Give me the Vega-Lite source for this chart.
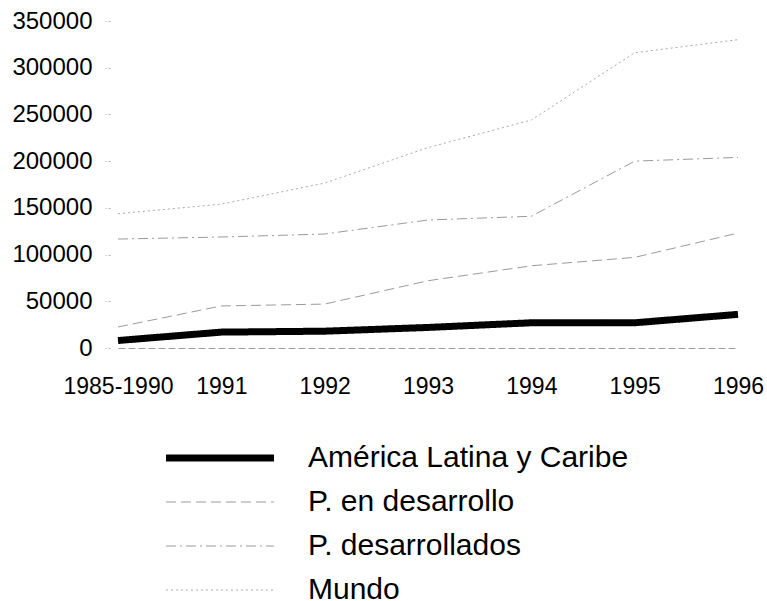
{
  "$schema": "https://vega.github.io/schema/vega-lite/v6.json",
  "width": 620,
  "height": 327,
  "autosize": {"type": "none"},
  "padding": {"left": 118, "top": 21, "right": 29, "bottom": 253},
  "background": "white",
  "config": {
    "view": {"stroke": null},
    "font": "Liberation Sans"
  },
  "data": {
    "values": [
      {"periodo": "1985-1990", "serie": "América Latina y Caribe", "valor": 8000},
      {"periodo": "1991", "serie": "América Latina y Caribe", "valor": 17000},
      {"periodo": "1992", "serie": "América Latina y Caribe", "valor": 18000},
      {"periodo": "1993", "serie": "América Latina y Caribe", "valor": 22000},
      {"periodo": "1994", "serie": "América Latina y Caribe", "valor": 27000},
      {"periodo": "1995", "serie": "América Latina y Caribe", "valor": 27000},
      {"periodo": "1996", "serie": "América Latina y Caribe", "valor": 36000},
      {"periodo": "1985-1990", "serie": "P. en desarrollo", "valor": 22500},
      {"periodo": "1991", "serie": "P. en desarrollo", "valor": 45000},
      {"periodo": "1992", "serie": "P. en desarrollo", "valor": 47000},
      {"periodo": "1993", "serie": "P. en desarrollo", "valor": 72000},
      {"periodo": "1994", "serie": "P. en desarrollo", "valor": 88000},
      {"periodo": "1995", "serie": "P. en desarrollo", "valor": 97000},
      {"periodo": "1996", "serie": "P. en desarrollo", "valor": 123000},
      {"periodo": "1985-1990", "serie": "P. desarrollados", "valor": 116600},
      {"periodo": "1991", "serie": "P. desarrollados", "valor": 118800},
      {"periodo": "1992", "serie": "P. desarrollados", "valor": 122000},
      {"periodo": "1993", "serie": "P. desarrollados", "valor": 137000},
      {"periodo": "1994", "serie": "P. desarrollados", "valor": 141000},
      {"periodo": "1995", "serie": "P. desarrollados", "valor": 200000},
      {"periodo": "1996", "serie": "P. desarrollados", "valor": 204000},
      {"periodo": "1985-1990", "serie": "Mundo", "valor": 143700},
      {"periodo": "1991", "serie": "Mundo", "valor": 154000},
      {"periodo": "1992", "serie": "Mundo", "valor": 176500},
      {"periodo": "1993", "serie": "Mundo", "valor": 214500},
      {"periodo": "1994", "serie": "Mundo", "valor": 244000},
      {"periodo": "1995", "serie": "Mundo", "valor": 316000},
      {"periodo": "1996", "serie": "Mundo", "valor": 330000}
    ]
  },
  "mark": {"type": "line", "strokeCap": "butt", "strokeJoin": "round"},
  "encoding": {
    "x": {
      "field": "periodo",
      "type": "ordinal",
      "sort": ["1985-1990", "1991", "1992", "1993", "1994", "1995", "1996"],
      "scale": {"type": "point", "padding": 0},
      "axis": {
        "title": null,
        "labelAngle": 0,
        "labelFontSize": 23,
        "labelColor": "black",
        "labelPadding": 27,
        "ticks": false,
        "domain": true,
        "domainColor": "#9a9a9a",
        "domainDash": [7, 3],
        "domainWidth": 1,
        "grid": false
      }
    },
    "y": {
      "field": "valor",
      "type": "quantitative",
      "scale": {"domain": [0, 350000], "nice": false},
      "axis": {
        "title": null,
        "values": [0, 50000, 100000, 150000, 200000, 250000, 300000, 350000],
        "format": "d",
        "grid": false,
        "domain": false,
        "ticks": true,
        "tickColor": "#b0b0b0",
        "tickSize": 5,
        "tickDash": [2, 2],
        "offset": 8,
        "labelPadding": 13,
        "labelFontSize": 24,
        "labelColor": "black"
      }
    },
    "color": {
      "field": "serie",
      "type": "nominal",
      "scale": {
        "domain": ["América Latina y Caribe", "P. en desarrollo", "P. desarrollados", "Mundo"],
        "range": ["#000000", "#9a9a9a", "#9a9a9a", "#a8a8a8"]
      },
      "legend": {
        "title": null,
        "orient": "none",
        "legendX": 87,
        "legendY": 422,
        "padding": 0,
        "symbolType": "M-5,0H5",
        "symbolSize": 467,
        "labelFontSize": 30,
        "labelColor": "black",
        "labelOffset": 73,
        "rowPadding": 14,
        "labelLimit": 500
      }
    },
    "strokeDash": {
      "field": "serie",
      "type": "nominal",
      "scale": {
        "domain": ["América Latina y Caribe", "P. en desarrollo", "P. desarrollados", "Mundo"],
        "range": [[1, 0], [10, 5], [10, 4, 2, 4], [2, 3]]
      },
      "legend": null
    },
    "strokeWidth": {
      "field": "serie",
      "type": "nominal",
      "scale": {
        "type": "ordinal",
        "domain": ["América Latina y Caribe", "P. en desarrollo", "P. desarrollados", "Mundo"],
        "range": [7, 1, 1, 1]
      },
      "legend": null
    }
  }
}
